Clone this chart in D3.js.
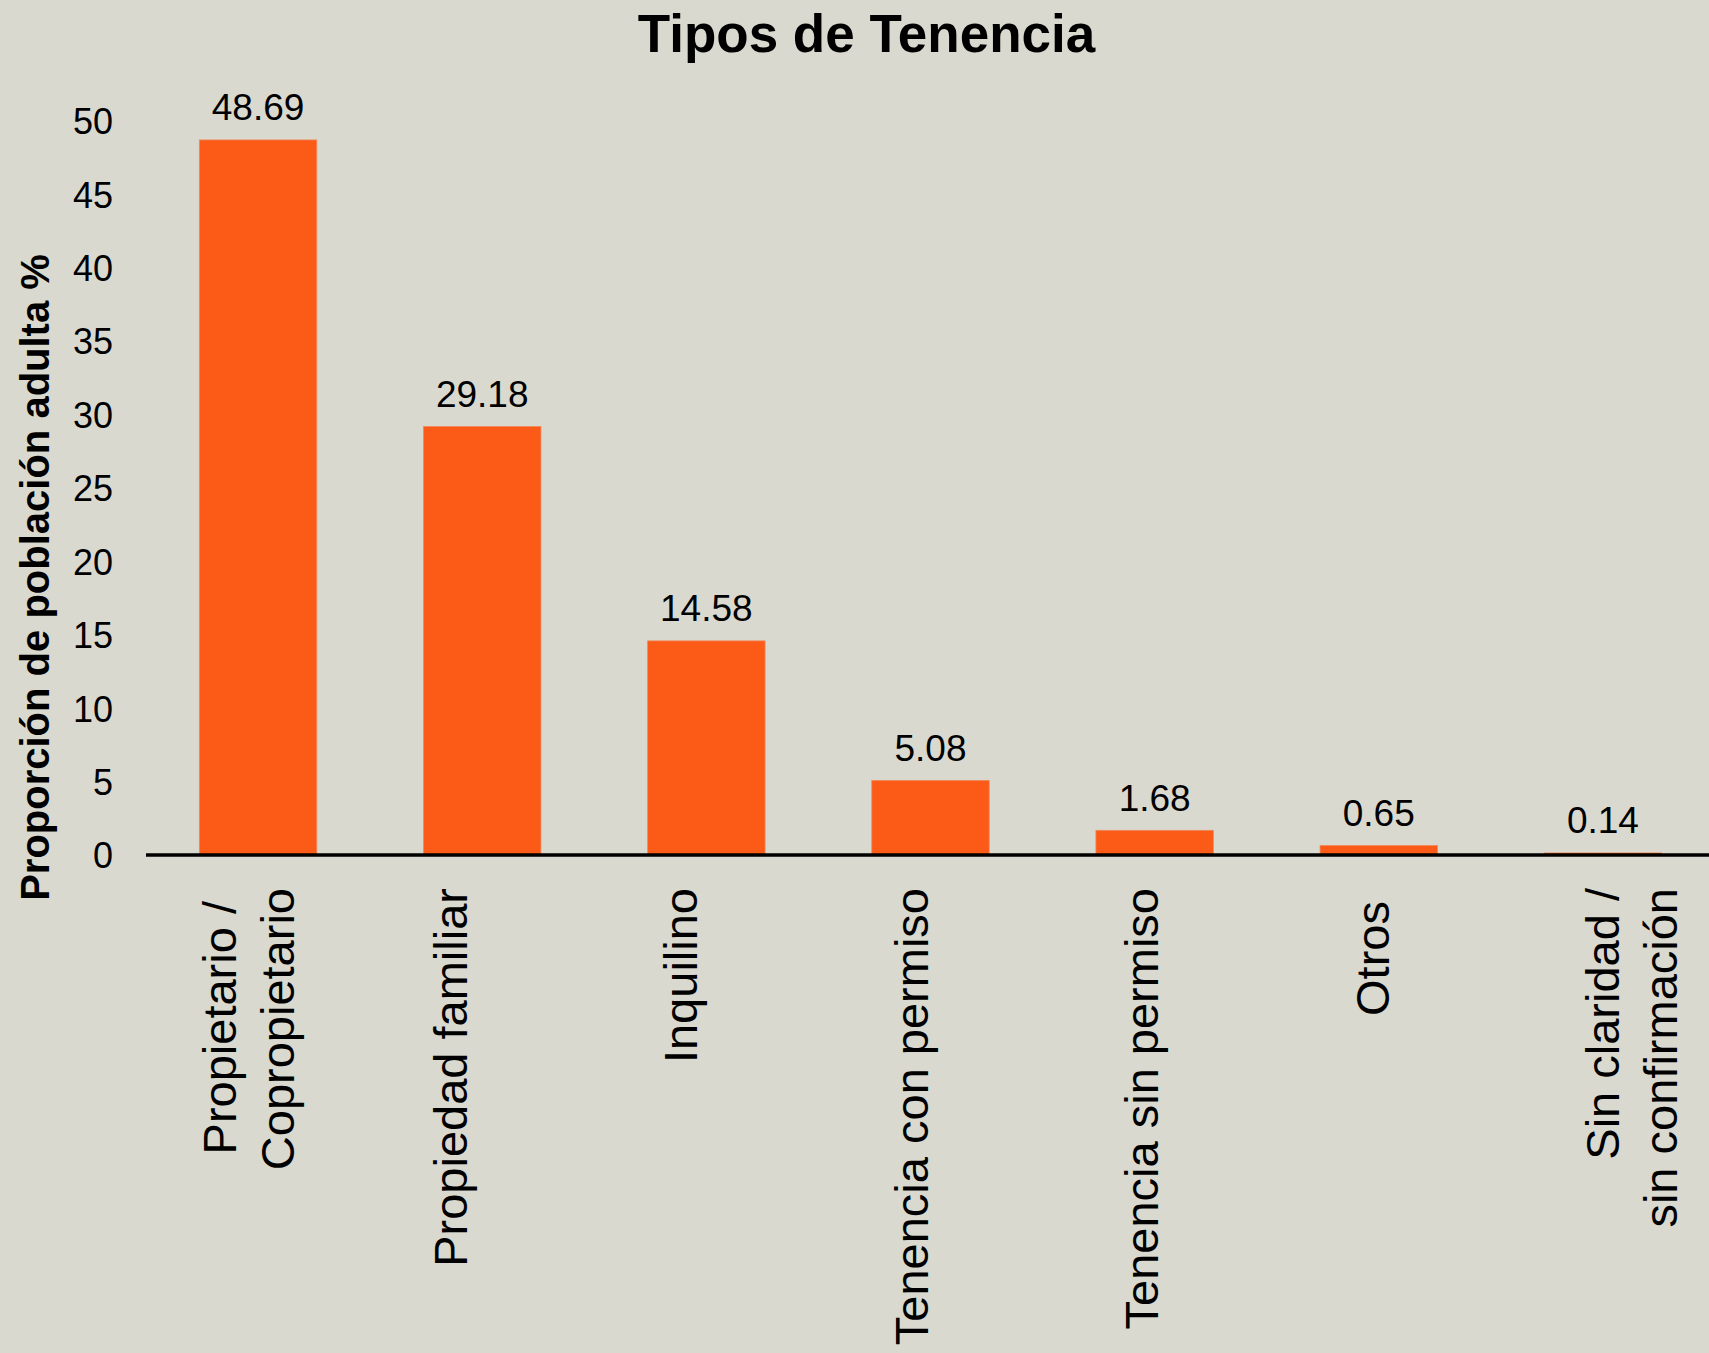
<!DOCTYPE html>
<html>
<head>
<meta charset="utf-8">
<script src="https://cdn.jsdelivr.net/npm/d3@7"></script>
<style>
  body { margin: 0; background: #d9d9d0; }
  svg { display: block; font-family: "Liberation Sans", Arial, sans-serif; }
</style>
</head>
<body>
<svg id="chart" width="1709" height="1353"></svg>
<script>
// data
var categories = ["Propietario / Copropietario", "Propiedad familiar", "Inquilino",
  "Tenencia con permiso", "Tenencia sin permiso", "Otros", "Sin claridad / sin confirmación"];
// how the category names break into lines under the axis
var labelLines = [["Propietario / ", "Copropietario"], ["Propiedad familiar"], ["Inquilino"],
  ["Tenencia con permiso"], ["Tenencia sin permiso"], ["Otros "], ["Sin claridad /", "sin confirmación"]];
var values = [48.69, 29.18, 14.58, 5.08, 1.68, 0.65, 0.14];
var yTicks = [0, 5, 10, 15, 20, 25, 30, 35, 40, 45, 50];

var title = "Tipos de Tenencia";
var yTitle = "Proporción de población adulta %";

var svg = d3.select("#chart");

svg.append("rect")
  .attr("width", 1709).attr("height", 1353)
  .attr("fill", "#d9d9d0");

// scales
var x = d3.scaleBand()
  .domain(categories)
  .range([146, 1715])
  .paddingInner(0.476)
  .paddingOuter(0.238);

var y = d3.scaleLinear()
  .domain([0, 50])
  .range([855, 120.7]);

// labels sit on a slightly wider spacing than the bars
var labelX = d3.scalePoint()
  .domain(categories)
  .range([236, 1619]);

// title
svg.append("text")
  .attr("x", 866.5)
  .attr("y", 51.5)
  .attr("text-anchor", "middle")
  .style("font-size", "53px")
  .style("font-weight", "bold")
  .text(title);

// y axis (labels only)
var yAxis = d3.axisLeft(y)
  .tickValues(yTicks)
  .tickSize(0)
  .tickPadding(0);

var yG = svg.append("g")
  .attr("transform", "translate(113,0)")
  .call(yAxis);
yG.select(".domain").remove();
yG.selectAll("text")
  .attr("x", 0)
  .attr("dy", "0.36em")
  .style("font-size", "36px")
  .style("font-family", "'Liberation Sans', Arial, sans-serif")
  .attr("fill", "#000");

// y title
svg.append("text")
  .attr("transform", "translate(48.5,577.5) rotate(-90)")
  .attr("text-anchor", "middle")
  .style("font-size", "40px")
  .style("font-weight", "bold")
  .text(yTitle);

// bars
svg.selectAll(".bar")
  .data(values)
  .enter()
  .append("rect")
  .attr("class", "bar")
  .attr("x", function(d, i) { return x(categories[i]); })
  .attr("width", x.bandwidth())
  .attr("y", function(d) { return y(d); })
  .attr("height", function(d) { return y(0) - y(d); })
  .attr("fill", "#fb5a17")
  .attr("stroke", "#f08a5c")
  .attr("stroke-width", 0.8);

// value labels
svg.selectAll(".val")
  .data(values)
  .enter()
  .append("text")
  .attr("class", "val")
  .attr("x", function(d, i) { return x(categories[i]) + x.bandwidth() / 2; })
  .attr("y", function(d) { return y(d) - 19.5; })
  .attr("text-anchor", "middle")
  .style("font-size", "37px")
  .text(function(d) { return d.toFixed(2); });

// baseline
svg.append("line")
  .attr("x1", 146).attr("x2", 1709)
  .attr("y1", y(0)).attr("y2", y(0))
  .attr("stroke", "#000")
  .attr("stroke-width", 3.4);

// category labels, rotated
var catG = svg.selectAll(".cat")
  .data(categories)
  .enter()
  .append("text")
  .attr("class", "cat")
  .attr("transform", function(d) { return "translate(" + labelX(d) + ",888) rotate(-90)"; })
  .attr("text-anchor", "end")
  .style("font-size", "47px")
  .style("white-space", "pre");

catG.each(function(d, i) {
  var t = d3.select(this);
  labelLines[i].forEach(function(line, j) {
    t.append("tspan")
      .attr("x", 0)
      .attr("y", j * 57.5)
      .text(line);
  });
});
</script>
</body>
</html>
